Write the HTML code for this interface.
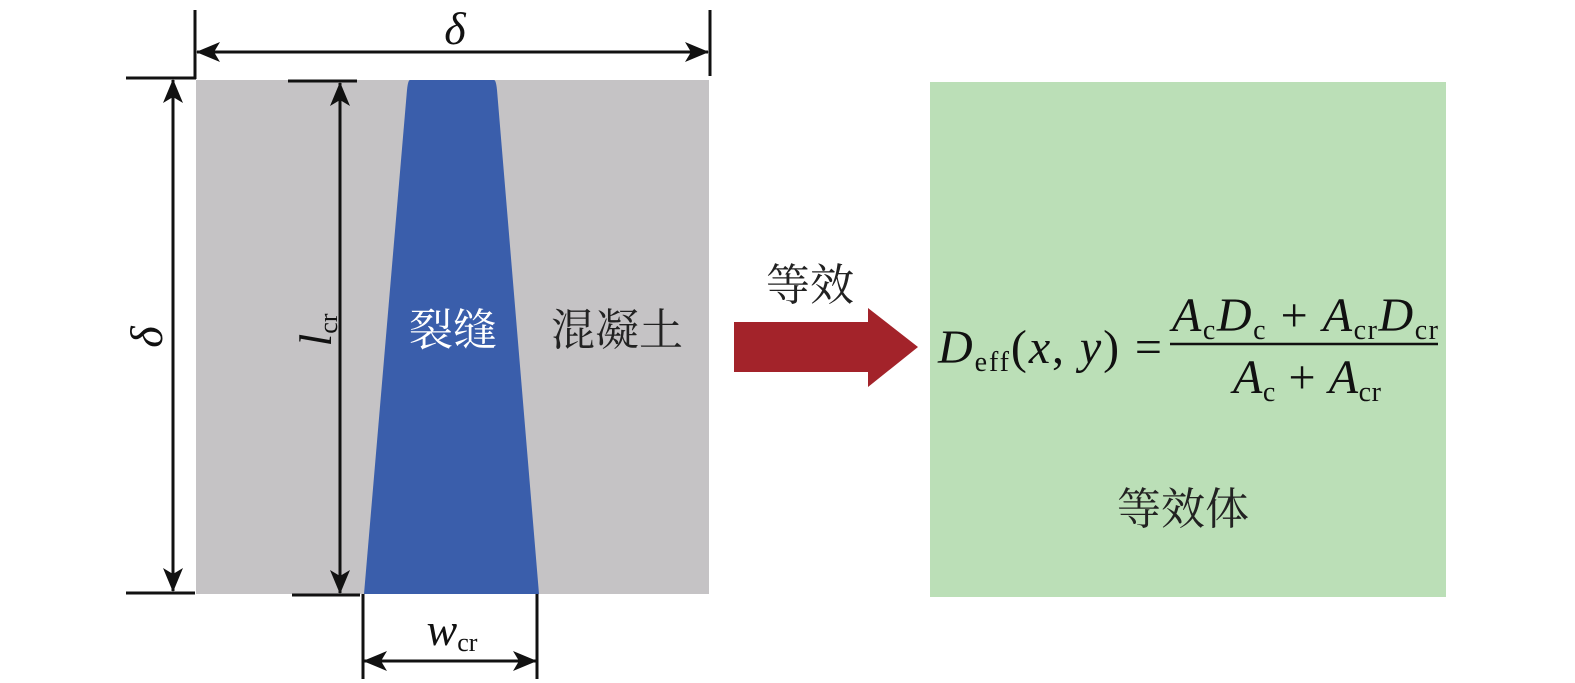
<!DOCTYPE html>
<html><head><meta charset="utf-8"><style>
html,body{margin:0;padding:0;background:#fff;}
svg{display:block;}
.s{font-family:"Liberation Serif",serif;}
.i{font-style:italic;}
.c{font-family:"Liberation Serif","Noto Serif CJK SC","Noto Sans CJK SC",serif;}
</style></head><body>
<svg width="1575" height="683" viewBox="0 0 1575 683" xmlns="http://www.w3.org/2000/svg">
<defs>
<marker id="a" viewBox="0 0 24 20" refX="23" refY="10" markerWidth="24" markerHeight="20" markerUnits="userSpaceOnUse" orient="auto-start-reverse"><path d="M0,0 L24,10 L0,20 L6,10 z" fill="#111"/></marker>
</defs>
<rect x="196" y="80" width="513" height="514" fill="#c5c3c5"/>
<path d="M410,80 L494,80 Q496,80 497,90 L539,594 L364,594 L407,90 Q408,80 410,80 Z" fill="#3a5eab"/>
<g stroke="#111" stroke-width="3" fill="none">
<line x1="195" y1="10" x2="195" y2="79"/>
<line x1="126" y1="78" x2="196" y2="78"/>
<line x1="710" y1="10" x2="710" y2="76"/>
<line x1="126" y1="593" x2="195" y2="593"/>
<line x1="288" y1="81" x2="357" y2="81"/>
<line x1="292" y1="595" x2="360" y2="595"/>
<line x1="363" y1="594" x2="363" y2="679"/>
<line x1="537" y1="594" x2="537" y2="679"/>
</g>
<g stroke="#111" stroke-width="3" fill="none">
<line x1="197" y1="52" x2="708" y2="52" marker-start="url(#a)" marker-end="url(#a)"/>
<line x1="173" y1="80" x2="173" y2="591" marker-start="url(#a)" marker-end="url(#a)"/>
<line x1="340" y1="83" x2="340" y2="593" marker-start="url(#a)" marker-end="url(#a)"/>
<line x1="364" y1="661" x2="536" y2="661" marker-start="url(#a)" marker-end="url(#a)"/>
</g>
<text x="455" y="44" class="s i" font-size="46" text-anchor="middle" fill="#111">δ</text>
<text transform="translate(162,337) rotate(-90)" class="s i" font-size="46" text-anchor="middle" fill="#111">δ</text>
<g transform="translate(331,330) rotate(-90)"><text class="s" fill="#111" text-anchor="middle"><tspan class="i" font-size="46">l</tspan><tspan font-size="26" dy="6">cr</tspan></text></g>
<text x="452" y="645" class="s" fill="#111" text-anchor="middle"><tspan class="i" font-size="46">w</tspan><tspan font-size="26" dy="6">cr</tspan></text>
<text x="453" y="345" class="c" font-size="44" fill="#fff" text-anchor="middle">裂缝</text>
<text x="617" y="345" class="c" font-size="44" fill="#222" text-anchor="middle">混凝土</text>
<path d="M734,322 L868,322 L868,308 L918,347 L868,387 L868,372 L734,372 Z" fill="#a3232a"/>
<text x="810" y="300" class="c" font-size="44" fill="#222" text-anchor="middle">等效</text>
<rect x="930" y="82" width="516" height="515" fill="#bbdfb7"/>
<text x="938" y="363" class="s" fill="#111" font-size="48" textLength="224" lengthAdjust="spacing"><tspan class="i">D</tspan><tspan font-size="28" dy="8">eff</tspan><tspan dy="-8">(</tspan><tspan class="i">x</tspan><tspan>, </tspan><tspan class="i">y</tspan><tspan>) =</tspan></text>
<line x1="1170" y1="344" x2="1438" y2="344" stroke="#111" stroke-width="2.5"/>
<text x="1172" y="331" class="s" fill="#111" font-size="48" textLength="266" lengthAdjust="spacing"><tspan class="i">A</tspan><tspan font-size="28" dy="8">c</tspan><tspan class="i" dy="-8">D</tspan><tspan font-size="28" dy="8">c</tspan><tspan dy="-8"> + </tspan><tspan class="i">A</tspan><tspan font-size="28" dy="8">cr</tspan><tspan class="i" dy="-8">D</tspan><tspan font-size="28" dy="8">cr</tspan></text>
<text x="1233" y="393" class="s" fill="#111" font-size="48" textLength="148" lengthAdjust="spacing"><tspan class="i">A</tspan><tspan font-size="28" dy="8">c</tspan><tspan dy="-8"> + </tspan><tspan class="i">A</tspan><tspan font-size="28" dy="8">cr</tspan></text>
<text x="1183" y="524" class="c" font-size="44" fill="#222" text-anchor="middle">等效体</text>
</svg>
</body></html>
